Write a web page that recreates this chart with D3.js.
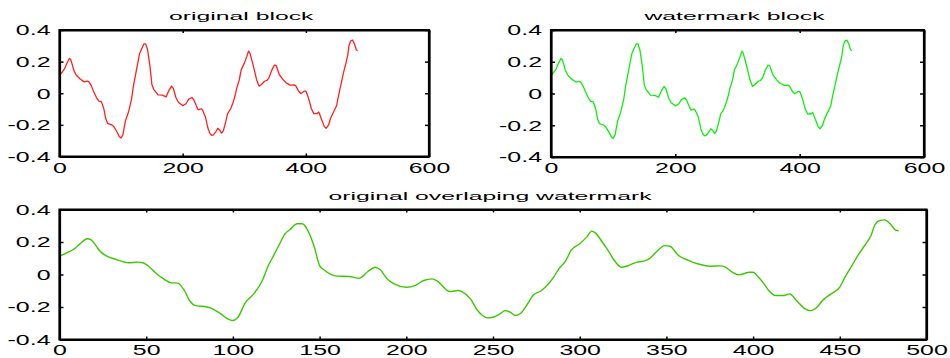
<!DOCTYPE html>
<html>
<head>
<meta charset="utf-8">
<script src="https://cdn.jsdelivr.net/npm/d3@7"></script>
<style>
  body { margin: 0; background: #fff; }
  svg { display: block; font-family: "Liberation Sans", Arial, sans-serif; }
</style>
</head>
<body>
<svg id="chart" width="950" height="358"></svg>
<script>
// sample index
const sampleX = [0,5,8,12,16,18,21,23,27,33,40,45,48,52,55,60,64,68,72,75,78,85,88,93,97,100,103,107,112,117,120,123,127,130,133,137,140,143,147,150,153,160,167,173,178,182,185,189,193,200,205,210,215,218,225,230,232,237,241,244,247,250,254,257,260,263,266,270,273,278,282,285,288,292,295,300,304,307,309,313,317,320,324,328,333,337,340,345,349,352,357,363,368,375,381,384,388,392,398,400,403,406,409,413,418,421,425,430,433,437,440,445,450,453,457,461,465,468,470,473,476,479,482,484];

// signal amplitude
const signalY = [0.113,0.137,0.154,0.19,0.22,0.215,0.178,0.148,0.115,0.092,0.072,0.076,0.072,0.045,0.014,-0.027,-0.05,-0.053,-0.098,-0.16,-0.19,-0.2,-0.21,-0.242,-0.273,-0.283,-0.262,-0.176,-0.119,-0.037,0.045,0.107,0.189,0.25,0.277,0.312,0.312,0.275,0.168,0.055,0.025,-0.01,-0.012,-0.023,0.02,0.045,0.029,-0.027,-0.057,-0.078,-0.068,-0.037,-0.027,-0.041,-0.105,-0.098,-0.105,-0.15,-0.22,-0.252,-0.267,-0.263,-0.242,-0.222,-0.232,-0.252,-0.238,-0.18,-0.129,-0.098,-0.057,-0.016,0.035,0.086,0.148,0.189,0.23,0.267,0.256,0.2,0.137,0.086,0.045,0.055,0.076,0.082,0.096,0.148,0.178,0.174,0.117,0.086,0.066,0.051,0.053,0.045,0.014,-0.002,0.014,0.014,-0.016,-0.053,-0.098,-0.129,-0.129,-0.119,-0.16,-0.211,-0.222,-0.2,-0.16,-0.119,-0.078,-0.016,0.055,0.127,0.189,0.24,0.3,0.332,0.336,0.312,0.275,0.269];

const yTicks = [-0.4, -0.2, 0, 0.2, 0.4];
const topXTicks = [0, 200, 400, 600];
const bottomXTicks = [0, 50, 100, 150, 200, 250, 300, 350, 400, 450, 500];

const panels = [
  { title: "original block", color: "#ff2020", xMax: 600, xTicks: topXTicks,
    left: 59.5, right: 429, top: 30, bottom: 156.5, curve: d3.curveLinear, width: 1.3 },
  { title: "watermark block", color: "#10ee10", xMax: 600, xTicks: topXTicks,
    left: 551, right: 924, top: 30, bottom: 157, curve: d3.curveLinear, width: 1.3 },
  { title: "original overlaping watermark", color: "#3cc800", xMax: 500, xTicks: bottomXTicks,
    left: 59.5, right: 926.5, top: 209.5, bottom: 339.5, curve: d3.curveMonotoneX, width: 1.4 }
];

const svg = d3.select("#chart");
const data = sampleX.map((x, i) => ({ x: x, y: signalY[i] }));
const yFmt = d => d === 0 ? "0" : d.toFixed(1);
const xFmt = d3.format("d");
const stretch = 1.78; // the reference text is drawn very wide

panels.forEach(p => {
  let x = d3.scaleLinear().domain([0, p.xMax]).range([p.left, p.right]);
  let y = d3.scaleLinear().domain([-0.4, 0.4]).range([p.bottom, p.top]);
  let g = svg.append("g");

  g.append("path")
    .datum(data)
    .attr("fill", "none")
    .attr("stroke", p.color)
    .attr("stroke-width", p.width)
    .attr("stroke-linejoin", "round")
    .attr("d", d3.line().x(d => x(d.x)).y(d => y(d.y)).curve(p.curve));

  // box round the plot area
  let x0 = x.range()[0], x1 = x.range()[1], y0 = y.range()[1], y1 = y.range()[0];
  g.append("path")
    .attr("d", `M${x0},${y0}H${x1}V${y1}H${x0}Z`)
    .attr("fill", "none")
    .attr("stroke", "#000")
    .attr("stroke-width", 2.2);

  // inward ticks on all four sides, matlab style
  let axes = [
    g.append("g").attr("transform", `translate(0,${p.bottom})`)
      .call(d3.axisBottom(x).tickValues(p.xTicks).tickFormat(xFmt).tickSizeInner(-3).tickSizeOuter(0)),
    g.append("g").attr("transform", `translate(${p.left},0)`)
      .call(d3.axisLeft(y).tickValues(yTicks).tickFormat(yFmt).tickSizeInner(-4).tickSizeOuter(0)),
    g.append("g").attr("transform", `translate(0,${p.top})`)
      .call(d3.axisTop(x).tickValues(p.xTicks).tickFormat(() => "").tickSizeInner(-3).tickSizeOuter(0)),
    g.append("g").attr("transform", `translate(${p.right},0)`)
      .call(d3.axisRight(y).tickValues(yTicks).tickFormat(() => "").tickSizeInner(-4).tickSizeOuter(0))
  ];
  axes.forEach(a => {
    a.attr("color", "#000");
    a.select(".domain").attr("stroke-width", 2.2);
    a.selectAll(".tick line").attr("stroke-width", 1.5);
  });

  let xOff = p.xMax === 500 ? 5.5 : 6.5;
  axes[0].selectAll("text")
    .attr("x", 0).attr("y", 0).attr("dy", "0.71em")
    .attr("transform", `translate(0,${xOff}) scale(${stretch},1)`);
  axes[1].selectAll("text")
    .attr("x", 0).attr("y", 0).attr("dy", "0.34em")
    .attr("transform", `translate(-9,0) scale(${stretch},1)`);

  g.selectAll(".tick text")
    .attr("font-size", 14)
    .attr("font-family", "Liberation Sans, Arial, sans-serif")
    .attr("fill", "#000");

  g.append("text")
    .attr("transform", `translate(${(p.left + p.right) / 2 - 3},${p.top - 10}) scale(2.25,1)`)
    .attr("text-anchor", "middle")
    .attr("font-size", 11)
    .attr("fill", "#000")
    .text(p.title);
});
</script>
</body>
</html>
